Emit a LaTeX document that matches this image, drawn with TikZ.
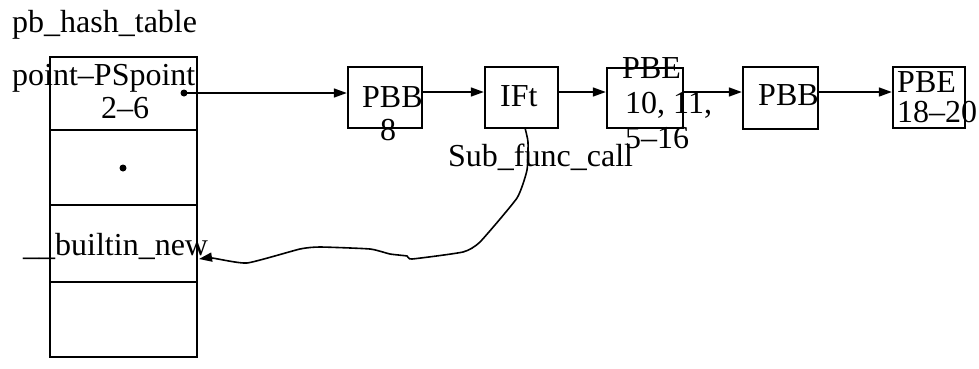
\documentclass[tikz,border=0pt]{standalone}
\usepackage{fontspec}
\setmainfont{Liberation Serif}
\usetikzlibrary{arrows.meta}
\begin{document}
\begin{tikzpicture}[x=1pt,y=-1pt,
  box/.style 2 args={draw, line width=2.4pt, inner sep=0pt, minimum width=#1, minimum height=#2},
  txt/.style={inner sep=0pt, anchor=base west, font=\fontsize{32}{34}\selectfont},
  ctxt/.style={inner sep=0pt, anchor=base, font=\fontsize{32}{34}\selectfont},
  dot/.style={circle, fill, inner sep=0pt, minimum size=7pt},
  arr/.style={line width=1.6pt, -{Triangle[length=13pt,width=9pt]}}]
\useasboundingbox (0,0) rectangle (979,368);
\fill[white] (0,0) rectangle (979,368);

% hash table
\node[txt] (title) at (12,32) {pb\_hash\_table};
\node[box={147pt}{73pt}] (c1) at (123.5,93.5) {};
\node[box={147pt}{75pt}] (c2) at (123.5,167.5) {};
\node[box={147pt}{77pt}] (c3) at (123.5,243.5) {};
\node[box={147pt}{75pt}] (c4) at (123.5,319.5) {};
\node[txt] (c1a) at (12,85) {point--PSpoint};
\node[ctxt] (c1b) at (125,118) {2--6};
\node[dot] (d1) at (184,93) {};
\node[dot] (d2) at (123,168) {};
\node[txt] (c3a) at (23,255) {\_\_builtin\_new};

% chain boxes
\node[box={74pt}{61pt}] (pbb1) at (385,97.5) {};
\node[txt] (pbb1a) at (362,107) {PBB};
\node[ctxt] (pbb1b) at (388,140) {8};
\node[box={73pt}{61pt}] (ift) at (521.5,97.5) {};
\node[txt] (ifta) at (500,106) {IFt};
\node[box={76pt}{60pt}] (pbe1) at (645,98) {};
\node[txt] (pbe1a) at (622,78) {PBE};
\node[txt] (pbe1b) at (625,113) {10, 11,};
\node[txt] (pbe1c) at (625,148) {5--16};
\node[box={75pt}{62pt}] (pbb2) at (780.5,98) {};
\node[txt] (pbb2a) at (758,105) {PBB};
\node[box={72pt}{61pt}] (pbe2) at (929,97.5) {};
\node[txt] (pbe2a) at (897,92) {PBE};
\node[txt] (pbe2b) at (897,122) {18--20};
\node[txt] (sub) at (448,166) {Sub\_func\_call};

% arrows
\coordinate (ay) at (0,92);
\draw[arr] (d1.center) -- (d1.center -| pbb1.west);
\draw[arr] (pbb1.east |- ay) -- (ift.west |- ay);
\draw[arr] (ift.east |- ay) -- (pbe1.west |- ay);
\draw[arr] (pbe1.east |- ay) -- (pbb2.west |- ay);
\draw[arr] (pbb2.east |- ay) -- (pbe2.west |- ay);

\coordinate (tip) at (199,259);
\draw[arr] plot[smooth, tension=0.3] coordinates {(525,128) (528,142) (527,170) (517,198) (480,242) (463,252) (412,259) (407,256) (390,254) (370,249) (320,247) (300,249) (247,263) (212,258) (tip)};
\end{tikzpicture}
\end{document}
